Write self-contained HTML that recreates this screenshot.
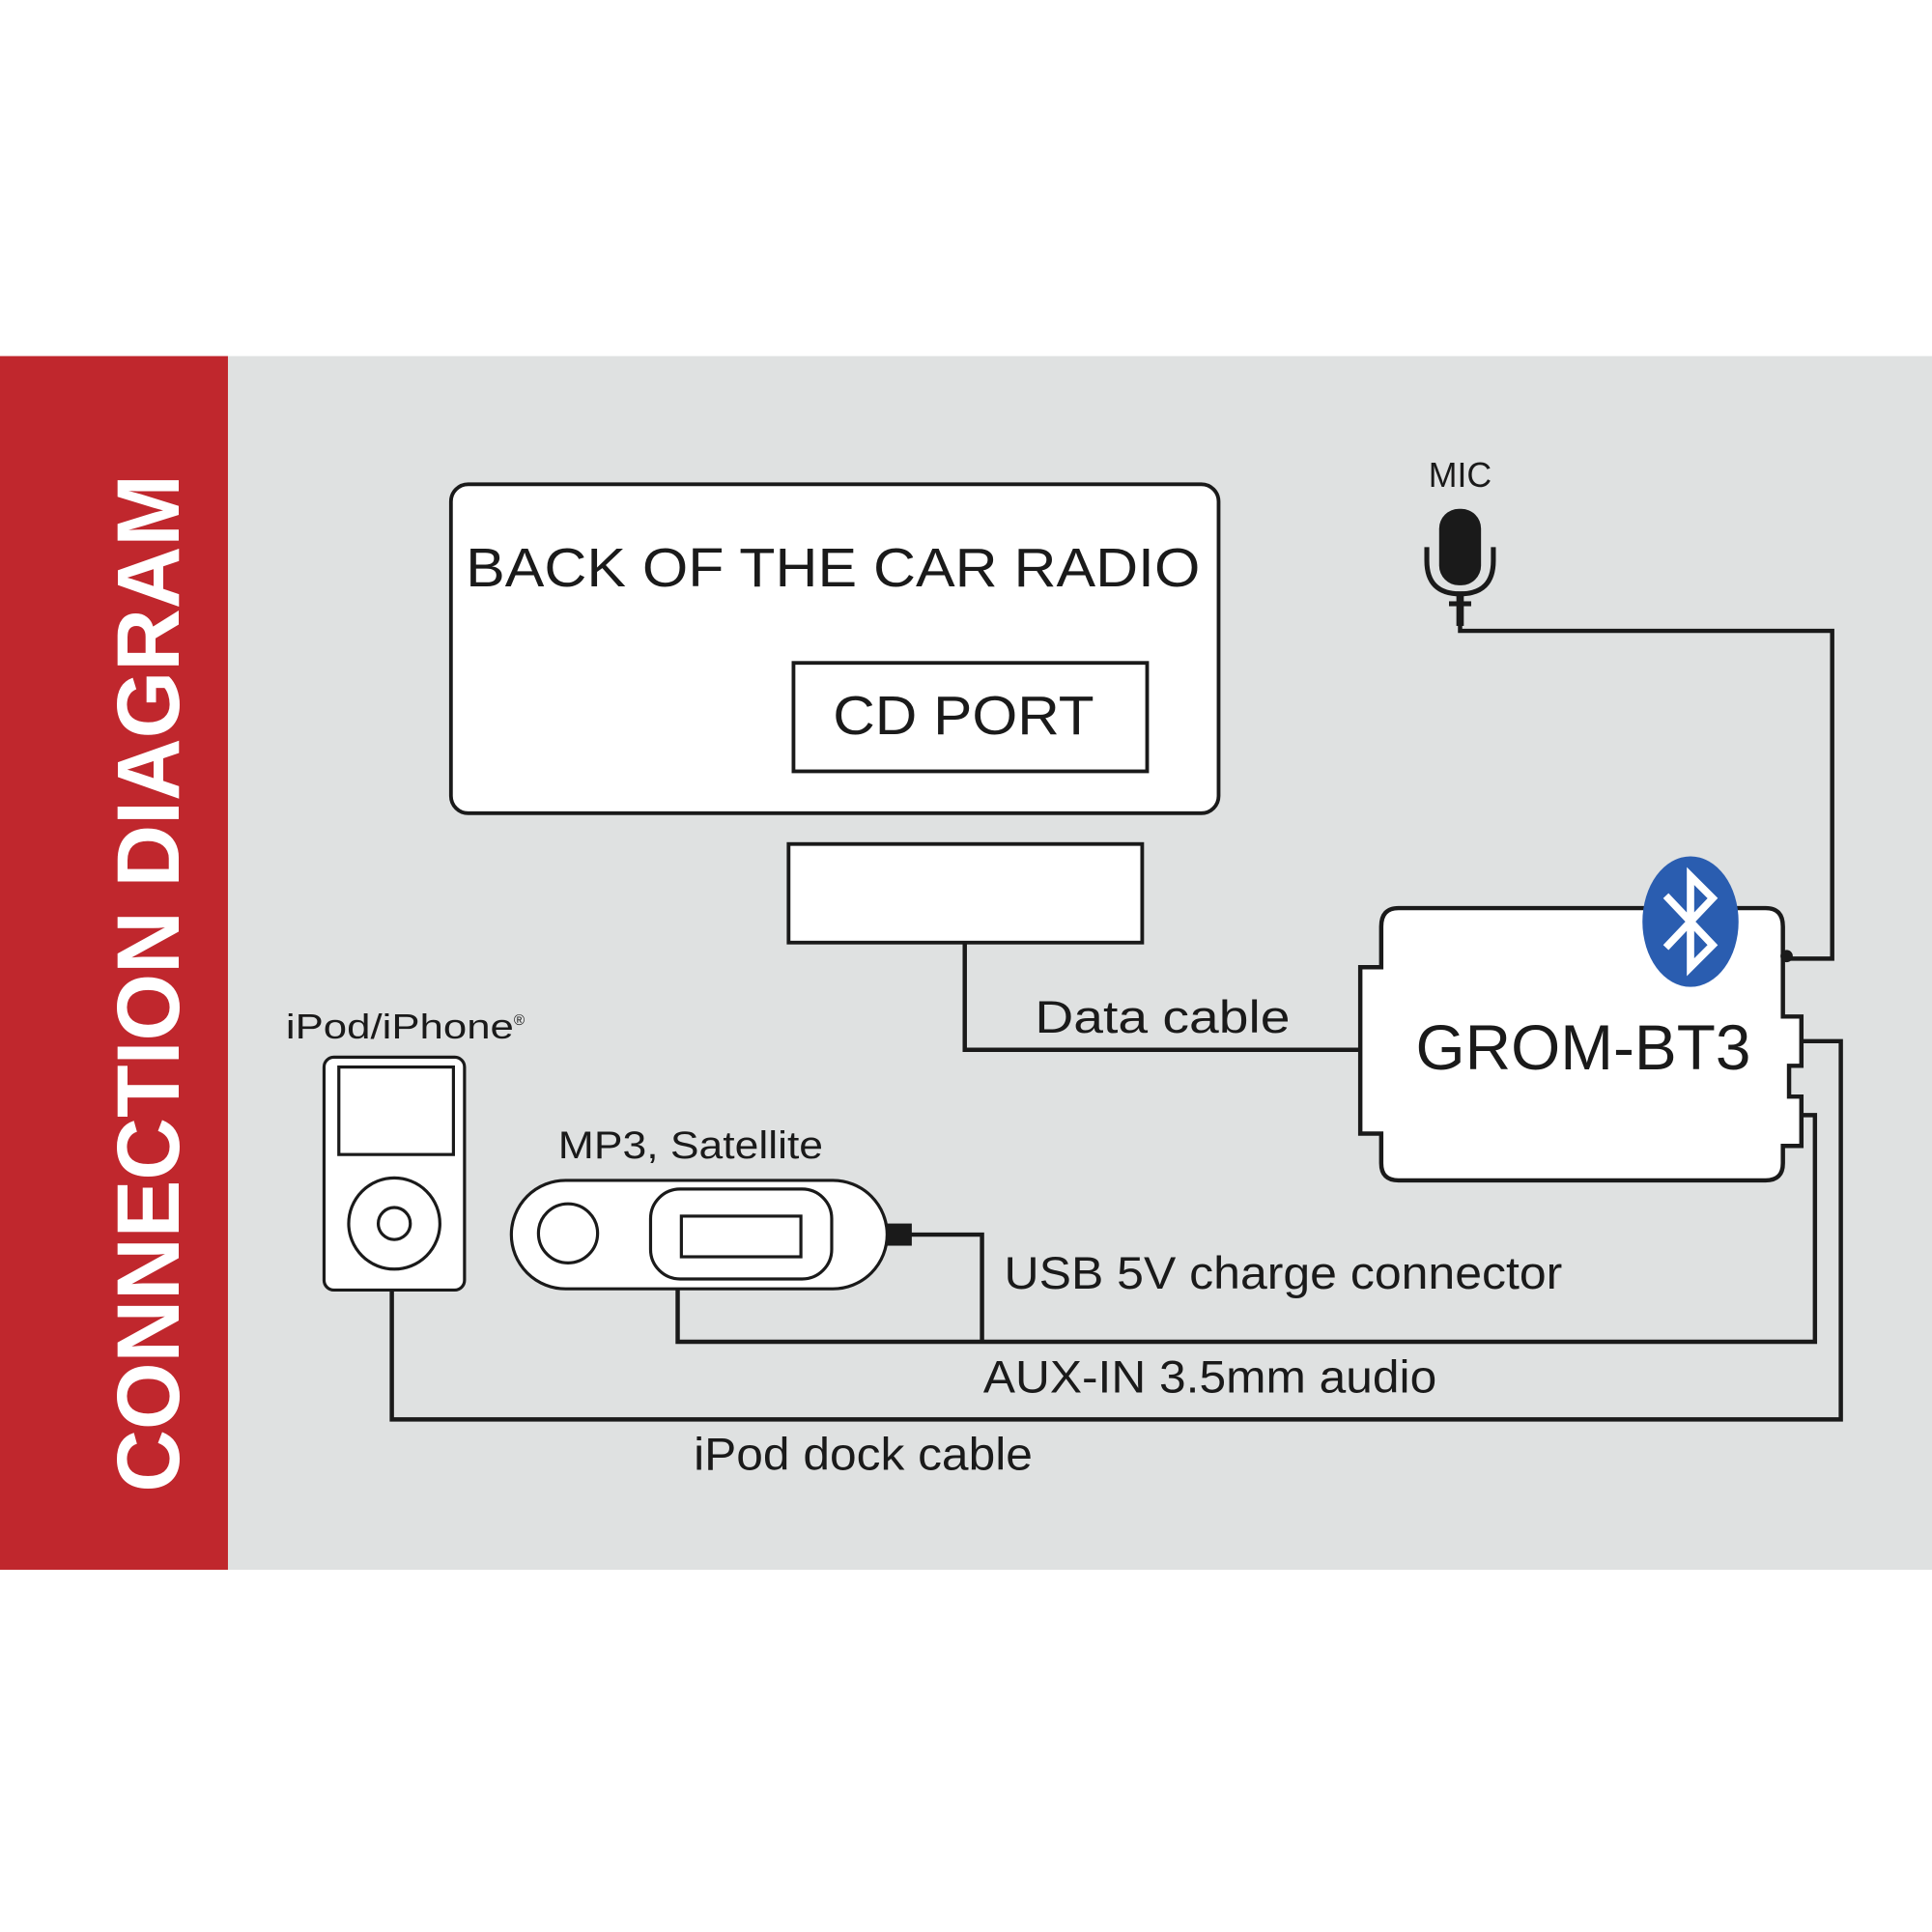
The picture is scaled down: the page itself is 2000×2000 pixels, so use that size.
<!DOCTYPE html>
<html><head><meta charset="utf-8"><style>
html,body{margin:0;padding:0;background:#fff;}
svg{display:block;}
text{font-family:"Liberation Sans",sans-serif;fill:#1a1a1a;}
</style></head><body>
<svg width="2000" height="2000" viewBox="0 0 1568 1568" xmlns="http://www.w3.org/2000/svg">
<rect x="0" y="0" width="1568" height="1568" fill="#fff"/>
<rect x="185" y="289" width="1383" height="985" fill="#dfe1e1"/>
<rect x="0" y="289" width="185" height="985" fill="#c0272d"/>
<text transform="translate(145,798) rotate(-90)" text-anchor="middle" font-size="72" font-weight="bold" style="fill:#fff" textLength="826" lengthAdjust="spacingAndGlyphs">CONNECTION DIAGRAM</text>

<g fill="none" stroke="#1a1a1a" stroke-width="3.5">
<polyline points="783,765 783,852 1103,852"/>
<polyline points="1185,505 1185,512 1487,512 1487,778 1452,778"/>
<polyline points="1462,845 1494,845 1494,1152 318,1152 318,1047"/>
<polyline points="1462,905 1473,905 1473,1089 550,1089 550,1040"/>
<polyline points="735,1002 797,1002 797,1089"/>
</g>

<rect x="366" y="393" width="623" height="267" rx="14" fill="#fff" stroke="#1a1a1a" stroke-width="3"/>
<text x="378" y="476" font-size="44" textLength="596" lengthAdjust="spacingAndGlyphs">BACK OF THE CAR RADIO</text>
<rect x="644" y="538" width="287" height="88" fill="#fff" stroke="#1a1a1a" stroke-width="3"/>
<text x="676" y="596" font-size="44" textLength="212" lengthAdjust="spacingAndGlyphs">CD PORT</text>
<rect x="640" y="685" width="287" height="80" fill="#fff" stroke="#1a1a1a" stroke-width="3"/>
<text x="840" y="838" font-size="37" textLength="207" lengthAdjust="spacingAndGlyphs">Data cable</text>

<path d="M1135,737 H1433 Q1447,737 1447,752 V825 H1462 V865 H1452 V890 H1462 V930 H1447 V944 Q1447,958 1433,958 H1135 Q1121,958 1121,944 V920 H1104 V785 H1121 V752 Q1121,737 1135,737 Z" fill="#fff" stroke="#1a1a1a" stroke-width="3.5"/>
<circle cx="1450" cy="776" r="5" fill="#1a1a1a"/>
<text x="1285" y="868" font-size="52" text-anchor="middle" textLength="272" lengthAdjust="spacingAndGlyphs">GROM-BT3</text>
<ellipse cx="1372" cy="748" rx="39" ry="53" fill="#2a5db0"/>
<polyline points="1352,727 1390,767 1372,785 1372,711 1390,729 1352,769" fill="none" stroke="#fff" stroke-width="6"/>

<text x="1185" y="395" font-size="28" text-anchor="middle">MIC</text>
<rect x="1168" y="413" width="34" height="62" rx="16" fill="#1a1a1a"/>
<path d="M1158,444 V455 Q1158,482 1185,482 Q1212,482 1212,455 V444" fill="none" stroke="#1a1a1a" stroke-width="4"/>
<rect x="1182" y="480" width="6" height="28" fill="#1a1a1a"/>
<rect x="1176" y="488" width="18" height="4" fill="#1a1a1a"/>

<text x="232" y="843" font-size="28" textLength="185" lengthAdjust="spacingAndGlyphs">iPod/iPhone</text>
<text x="417" y="832" font-size="12">®</text>
<rect x="263" y="858" width="114" height="189" rx="8" fill="#fff" stroke="#1a1a1a" stroke-width="2.5"/>
<rect x="275" y="866" width="93" height="71" fill="#fff" stroke="#1a1a1a" stroke-width="2.5"/>
<circle cx="320" cy="993" r="37" fill="#fff" stroke="#1a1a1a" stroke-width="2.5"/>
<circle cx="320" cy="993" r="13" fill="#fff" stroke="#1a1a1a" stroke-width="2.5"/>

<text x="453" y="940" font-size="31" textLength="215" lengthAdjust="spacingAndGlyphs">MP3, Satellite</text>
<rect x="415" y="958" width="305" height="88" rx="44" fill="#fff" stroke="#1a1a1a" stroke-width="2.5"/>
<circle cx="461" cy="1001" r="24" fill="#fff" stroke="#1a1a1a" stroke-width="2.5"/>
<rect x="528" y="965" width="147" height="73" rx="24" fill="#fff" stroke="#1a1a1a" stroke-width="2.5"/>
<rect x="553" y="987" width="97" height="33" fill="#fff" stroke="#1a1a1a" stroke-width="2.5"/>
<rect x="720" y="993" width="20" height="18" fill="#1a1a1a"/>

<text x="815" y="1046" font-size="37" textLength="453" lengthAdjust="spacingAndGlyphs">USB 5V charge connector</text>
<text x="798" y="1130" font-size="37" textLength="368" lengthAdjust="spacingAndGlyphs">AUX-IN 3.5mm audio</text>
<text x="563" y="1193" font-size="37" textLength="275" lengthAdjust="spacingAndGlyphs">iPod dock cable</text>
</svg>
</body></html>
